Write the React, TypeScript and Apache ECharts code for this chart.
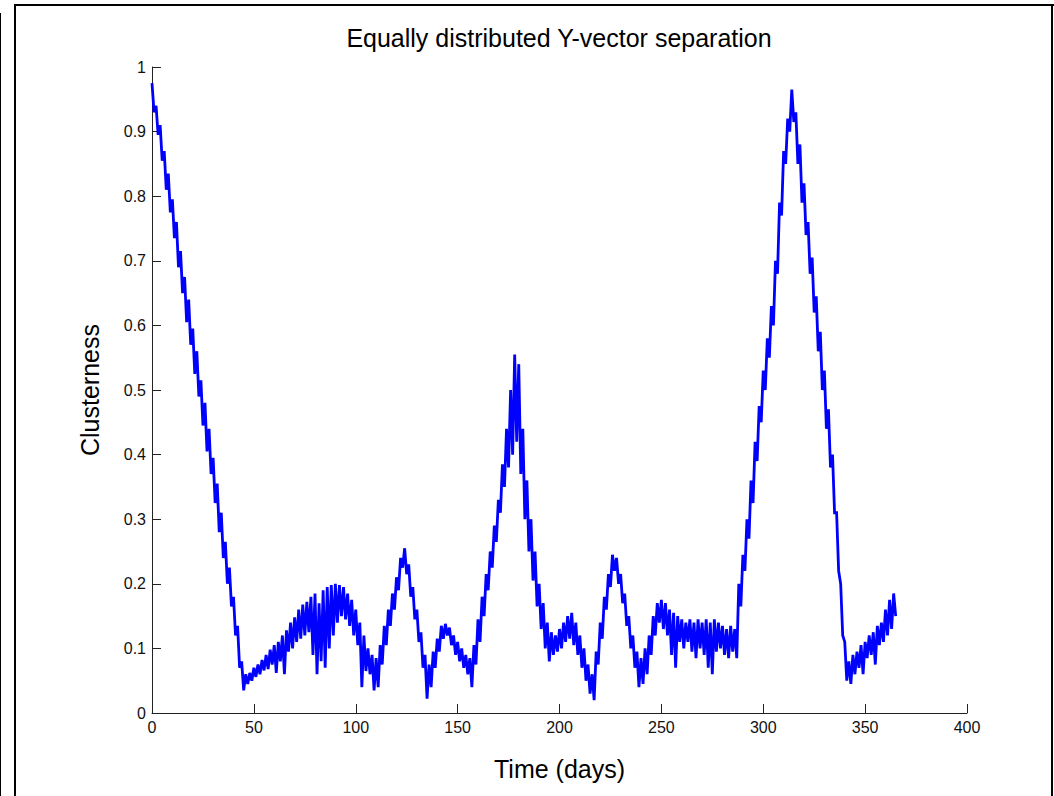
import React, { useEffect, useRef } from "react";
import * as echarts from "echarts";

const chartTitle = "Equally distributed Y-vector separation";
const xAxisName = "Time (days)";
const yAxisName = "Clusterness";

// one reading per day, day 0 .. 365
const clusterness: number[] = [
  0.975, 0.930, 0.940, 0.895, 0.910, 0.855, 0.870, 0.810, 0.835, 0.775,
  0.795, 0.735, 0.760, 0.690, 0.715, 0.650, 0.675, 0.605, 0.640, 0.570,
  0.595, 0.525, 0.560, 0.490, 0.515, 0.445, 0.480, 0.405, 0.440, 0.370,
  0.395, 0.325, 0.355, 0.280, 0.310, 0.240, 0.265, 0.200, 0.225, 0.165,
  0.180, 0.120, 0.135, 0.070, 0.080, 0.035, 0.060, 0.045, 0.062, 0.050,
  0.070, 0.056, 0.075, 0.060, 0.082, 0.066, 0.090, 0.068, 0.098, 0.075,
  0.105, 0.062, 0.110, 0.080, 0.120, 0.060, 0.128, 0.095, 0.140, 0.100,
  0.148, 0.110, 0.160, 0.115, 0.168, 0.120, 0.172, 0.125, 0.180, 0.090,
  0.185, 0.060, 0.170, 0.080, 0.190, 0.070, 0.195, 0.100, 0.198, 0.120,
  0.200, 0.140, 0.198, 0.150, 0.195, 0.145, 0.185, 0.135, 0.175, 0.120,
  0.160, 0.105, 0.140, 0.040, 0.120, 0.065, 0.100, 0.060, 0.090, 0.035,
  0.085, 0.040, 0.105, 0.075, 0.135, 0.105, 0.160, 0.135, 0.185, 0.160,
  0.210, 0.190, 0.240, 0.225, 0.255, 0.215, 0.230, 0.180, 0.195, 0.145,
  0.160, 0.110, 0.125, 0.070, 0.090, 0.022, 0.075, 0.040, 0.095, 0.070,
  0.115, 0.095, 0.135, 0.115, 0.138, 0.120, 0.132, 0.105, 0.120, 0.090,
  0.110, 0.080, 0.100, 0.070, 0.090, 0.060, 0.085, 0.040, 0.105, 0.075,
  0.145, 0.110, 0.180, 0.150, 0.215, 0.190, 0.250, 0.225, 0.290, 0.265,
  0.330, 0.310, 0.385, 0.350, 0.440, 0.380, 0.500, 0.400, 0.555, 0.420,
  0.540, 0.370, 0.440, 0.300, 0.360, 0.250, 0.300, 0.205, 0.250, 0.165,
  0.200, 0.130, 0.170, 0.100, 0.140, 0.080, 0.125, 0.090, 0.120, 0.095,
  0.130, 0.100, 0.140, 0.110, 0.150, 0.115, 0.155, 0.105, 0.140, 0.090,
  0.120, 0.070, 0.100, 0.050, 0.075, 0.030, 0.060, 0.020, 0.095, 0.075,
  0.140, 0.115, 0.180, 0.160, 0.215, 0.195, 0.245, 0.220, 0.240, 0.200,
  0.215, 0.170, 0.185, 0.135, 0.150, 0.100, 0.120, 0.070, 0.095, 0.040,
  0.085, 0.045, 0.100, 0.060, 0.120, 0.090, 0.150, 0.120, 0.170, 0.140,
  0.175, 0.130, 0.170, 0.120, 0.160, 0.090, 0.155, 0.070, 0.150, 0.110,
  0.145, 0.100, 0.140, 0.110, 0.145, 0.095, 0.140, 0.085, 0.145, 0.100,
  0.140, 0.090, 0.145, 0.070, 0.140, 0.060, 0.145, 0.095, 0.140, 0.100,
  0.135, 0.090, 0.130, 0.085, 0.135, 0.095, 0.130, 0.085, 0.200, 0.165,
  0.245, 0.220, 0.300, 0.270, 0.360, 0.325, 0.420, 0.390, 0.475, 0.450,
  0.530, 0.500, 0.580, 0.550, 0.630, 0.600, 0.700, 0.680, 0.790, 0.770,
  0.870, 0.850, 0.920, 0.900, 0.965, 0.915, 0.930, 0.850, 0.880, 0.790,
  0.820, 0.740, 0.760, 0.680, 0.705, 0.620, 0.645, 0.560, 0.590, 0.500,
  0.530, 0.440, 0.470, 0.380, 0.400, 0.310, 0.310, 0.220, 0.200, 0.120,
  0.110, 0.050, 0.080, 0.045, 0.090, 0.060, 0.095, 0.070, 0.105, 0.060,
  0.110, 0.085, 0.120, 0.090, 0.125, 0.075, 0.135, 0.105, 0.140, 0.110,
  0.160, 0.120, 0.175, 0.130, 0.185, 0.150,
];

const FONT = "'Liberation Sans', Arial, Helvetica, sans-serif";

export default function App() {
  const ref = useRef<HTMLDivElement>(null);
  useEffect(() => {
    if (!ref.current) return;
    const chart = echarts.init(ref.current, null, { renderer: "svg" });
    const axisCommon = {
      axisLine: { show: true, lineStyle: { color: "#222", width: 1 } },
      axisTick: { show: true, inside: true, length: 9, lineStyle: { color: "#222", width: 1 } },
      splitLine: { show: false },
      axisLabel: { color: "#111", fontFamily: FONT, fontSize: 16, margin: 6 },
      nameLocation: "middle" as const,
      nameTextStyle: { color: "#000", fontFamily: FONT, fontSize: 25 },
    };
    chart.setOption({
      animation: false,
      backgroundColor: "#ffffff",
      grid: { left: 152, right: 87, top: 67, bottom: 83, containLabel: false },
      xAxis: {
        type: "value",
        min: 0,
        max: 400,
        interval: 50,
        name: xAxisName,
        nameGap: 43,
        ...axisCommon,
      },
      yAxis: {
        type: "value",
        min: 0,
        max: 1,
        interval: 0.1,
        name: yAxisName,
        nameGap: 50,
        nameRotate: 90,
        ...axisCommon,
      },
      series: [
        {
          type: "line",
          data: clusterness.map((v, i) => [i, v]),
          symbol: "none",
          showSymbol: false,
          lineStyle: { color: "#0000ff", width: 2.8, join: "miter" },
          itemStyle: { color: "#0000ff" },
        },
      ],
      graphic: [
        {
          type: "text",
          x: 559,
          y: 38,
          style: {
            text: chartTitle,
            fill: "#000",
            font: `25px ${FONT}`,
            textAlign: "center",
            textVerticalAlign: "middle",
          },
        },
        { type: "line", shape: { x1: 15, y1: 5, x2: 1054, y2: 5 }, style: { stroke: "#000", lineWidth: 2 } },
        { type: "line", shape: { x1: 15, y1: 4, x2: 15, y2: 796 }, style: { stroke: "#000", lineWidth: 2 } },
        { type: "line", shape: { x1: 1052, y1: 4, x2: 1052, y2: 796 }, style: { stroke: "#000", lineWidth: 2 } },
        { type: "line", shape: { x1: 0.5, y1: 13, x2: 0.5, y2: 796 }, style: { stroke: "#000", lineWidth: 1 } },
      ],
    });
    return () => chart.dispose();
  }, []);
  return (
    <div
      ref={ref}
      style={{ position: "fixed", left: 0, top: 0, width: 1054, height: 796 }}
    />
  );
}
